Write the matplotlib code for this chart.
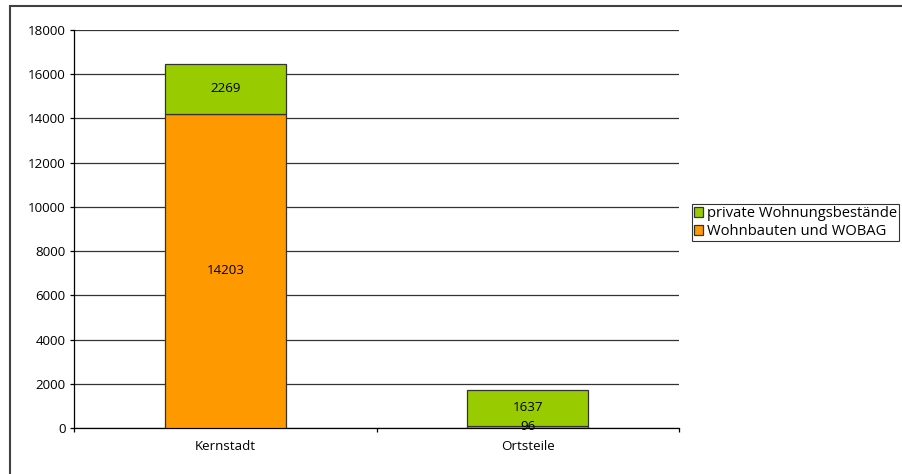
import matplotlib.pyplot as plt
from matplotlib.patches import Rectangle

# ── DATA ──────────────────────────────────────────────────────────────────────
categories = ["Kernstadt", "Ortsteile"]
wohnbauten = [14203, 96]
private = [2269, 1637]
series_labels = ["private Wohnungsbestände", "Wohnbauten und WOBAG"]
yticks = [0, 2000, 4000, 6000, 8000, 10000, 12000, 14000, 16000, 18000]
# ─────────────────────────────────────────────────────────────────────────────

plt.rcParams['font.family'] = ['Open Sans', 'DejaVu Sans']
FS = 9.6

W, H = 902, 474
fig = plt.figure(figsize=(W / 100, H / 100), dpi=100)

# outer chart frame (only top and left edge are inside the picture)
fig.patches.append(Rectangle((10 / W, -0.5), 1.5, 1.5 - 6 / H, transform=fig.transFigure,
                             fill=False, edgecolor="#404040", linewidth=1.5))

ax = fig.add_axes([74 / W, 1 - 428 / H, 605 / W, 398 / H])

x = range(len(categories))
b1 = ax.bar(x, wohnbauten, width=0.4, color="#FF9900", edgecolor="#333333",
            linewidth=0.9, label=series_labels[1], zorder=3)
b2 = ax.bar(x, private, width=0.4, bottom=wohnbauten, color="#99CC00",
            edgecolor="#333333", linewidth=0.9, label=series_labels[0], zorder=3)

for rect, v in zip(b1, wohnbauten):
    ax.text(rect.get_x() + rect.get_width() / 2, rect.get_y() + rect.get_height() / 2,
            str(v), ha="center", va="center", fontsize=FS, zorder=4)
for rect, v in zip(b2, private):
    ax.text(rect.get_x() + rect.get_width() / 2, rect.get_y() + rect.get_height() / 2,
            str(v), ha="center", va="center", fontsize=FS, zorder=4)

ax.set_xlim(-0.5, 1.5)
ax.set_ylim(0, 18000)
ax.set_yticks(yticks)
ax.set_yticklabels([str(t) for t in yticks], fontsize=FS)
ax.set_xticks(list(x))
ax.set_xticklabels(categories, fontsize=FS)
ax.tick_params(axis="x", length=0, pad=9)
ax.set_xticks([-0.5, 0.5, 1.5], minor=True)
ax.tick_params(axis="x", which="minor", length=3, width=0.9, direction="out")
ax.tick_params(axis="y", length=3, width=0.9, direction="out", pad=3)

ax.grid(axis="y", color="#333333", linewidth=0.9, zorder=0)
for s in ["top", "right"]:
    ax.spines[s].set_visible(False)
ax.spines["left"].set_linewidth(0.9)
ax.spines["bottom"].set_linewidth(0.9)

handles, labels = ax.get_legend_handles_labels()
leg = fig.legend(handles[::-1], labels[::-1], loc="upper left",
                 bbox_to_anchor=(692 / W, 1 - 204 / H), fontsize=10.6,
                 frameon=True, fancybox=False, edgecolor="#000000",
                 handlelength=0.6, handleheight=0.6, handletextpad=0.25,
                 borderpad=0.15, labelspacing=0.2, borderaxespad=0)
leg.get_frame().set_linewidth(0.8)

fig.savefig("out.png", dpi=100)
